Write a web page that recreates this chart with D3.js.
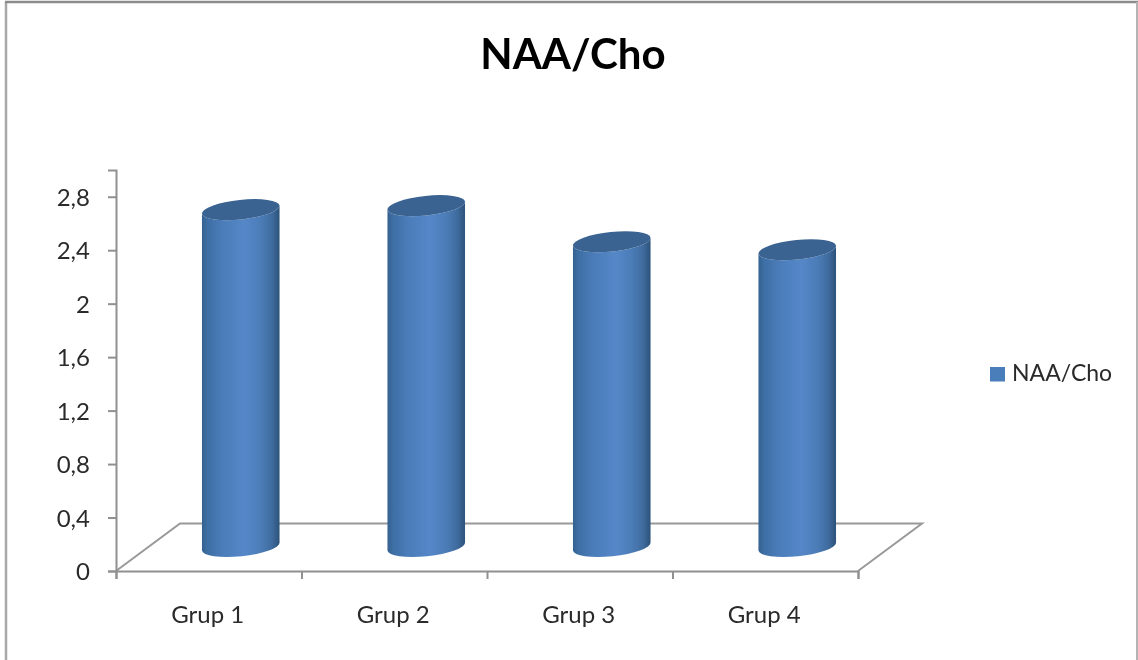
<!DOCTYPE html>
<html><head><meta charset="utf-8">
<script src="https://cdn.jsdelivr.net/npm/d3@7"></script>
<style>html,body{margin:0;padding:0;background:#fff;overflow:hidden}svg{display:block;font-family:Lato,sans-serif}</style>
</head><body><div id="chart"></div>
<script>
const chartTitle = "NAA/Cho";
const categories = ["Grup 1","Grup 2","Grup 3","Grup 4"];
const seriesName = "NAA/Cho";
const values = [2.52,2.55,2.28,2.22];
const yTicks = [0,0.4,0.8,1.2,1.6,2,2.4,2.8];

const W=1138,H=660;
const svg=d3.select("#chart").append("svg").attr("width",W).attr("height",H);
const defs=svg.append("defs");
defs.append("filter").attr("id","soft").attr("x",0).attr("y",0).attr("width",1).attr("height",1)
  .append("feGaussianBlur").attr("stdDeviation",0.75);
const grad=defs.append("linearGradient").attr("id","cyl");
[[0,"#35618f"],[0.07,"#3d6ea4"],[0.25,"#4a7cb8"],[0.55,"#5587c8"],[0.75,"#4c7db8"],[0.9,"#3f6c9f"],[1,"#2c5279"]]
  .forEach(([o,c])=>grad.append("stop").attr("offset",o).attr("stop-color",c));

const root=svg.append("g").attr("filter","url(#soft)");
root.append("rect").attr("width",W).attr("height",H).attr("fill","#fff");

// frame
const frame=root.append("g").attr("fill","none");
frame.append("path").attr("d",`M6,${H}V2`).attr("stroke","#a8a8a8").attr("stroke-width",2.5);
frame.append("path").attr("d",`M5,2H${W}`).attr("stroke","#8c8c8c").attr("stroke-width",2.5);
frame.append("path").attr("d",`M${W-1},2V${H}`).attr("stroke","#b4b4b4").attr("stroke-width",2);

const y=d3.scaleLinear().domain([0,3]).range([571,170]);
const x=d3.scaleBand().domain(categories).range([116,858]);
const edge=d3.scaleLinear().domain([0,categories.length]).range([116,858]);
const depth={dx:64,dy:47.5};
const axisCol="#909090";

// floor
const y0=y(0);
root.append("path")
  .attr("d",`M${edge(0)},${y0}L${edge(0)+depth.dx},${y0-depth.dy}H${edge(4)+depth.dx}L${edge(4)},${y0}`)
  .attr("fill","none").attr("stroke","#999").attr("stroke-width",2);

// axes
const yAxis=root.append("g").attr("transform","translate(116,0)")
  .call(d3.axisLeft(y).tickValues(yTicks).tickSize(8).tickPadding(18).tickFormat(d=>String(d).replace(".",",")));
const xAxis=root.append("g").attr("transform",`translate(0,${y0})`)
  .call(d3.axisBottom(edge).tickValues(d3.range(categories.length+1)).tickSize(8).tickFormat(""));
[yAxis,xAxis].forEach(a=>{
  a.selectAll("path.domain").attr("stroke",axisCol).attr("stroke-width",2);
  a.selectAll("line").attr("stroke",axisCol).attr("stroke-width",2);
});
yAxis.attr("font-family","Lato,sans-serif");
yAxis.selectAll("text").attr("font-size",24).attr("fill","#2b2b2b").attr("dy","0.36em");

// cylinders
const rx=39,ry=9.8,rot=-6;
const rad=rot*Math.PI/180;
const ex=rx*Math.cos(rad),ey=rx*Math.sin(rad);
const bars=root.append("g").selectAll("g").data(values).join("g");
const cx=(d,i)=>x(categories[i])+x.bandwidth()/2+depth.dx/2;
const baseY=y0-depth.dy/2-0.75;
const topY=d=>y(d)-depth.dy/2-0.75;
bars.append("path").attr("fill","url(#cyl)")
  .attr("d",(d,i)=>{const c=cx(d,i),t=topY(d);
    return `M${c-ex},${t-ey}L${c-ex},${baseY-ey}A${rx},${ry} ${rot} 0 0 ${c+ex},${baseY+ey}L${c+ex},${t+ey}A${rx},${ry} ${rot} 0 1 ${c-ex},${t-ey}Z`;});
bars.append("ellipse").attr("fill","#3a6392")
  .attr("cx",(d,i)=>cx(d,i)).attr("cy",d=>topY(d)).attr("rx",rx).attr("ry",ry)
  .attr("transform",(d,i)=>`rotate(${rot} ${cx(d,i)} ${topY(d)})`);

// category labels
root.append("g").selectAll("text").data(categories).join("text")
  .attr("x",d=>x(d)+x.bandwidth()/2-1).attr("y",622.5).attr("text-anchor","middle")
  .attr("font-size",24).attr("fill","#2b2b2b").text(d=>d);

// title
root.append("text").attr("x",573).attr("y",69).attr("text-anchor","middle")
  .attr("font-size",42).attr("font-weight",700).attr("fill","#000").text(chartTitle);

// legend
root.append("rect").attr("x",990).attr("y",367).attr("width",15).attr("height",14.5).attr("fill","#4a7ebb");
root.append("text").attr("x",1012).attr("y",381).attr("font-size",23).attr("fill","#2b2b2b").text(seriesName);
</script></body></html>
